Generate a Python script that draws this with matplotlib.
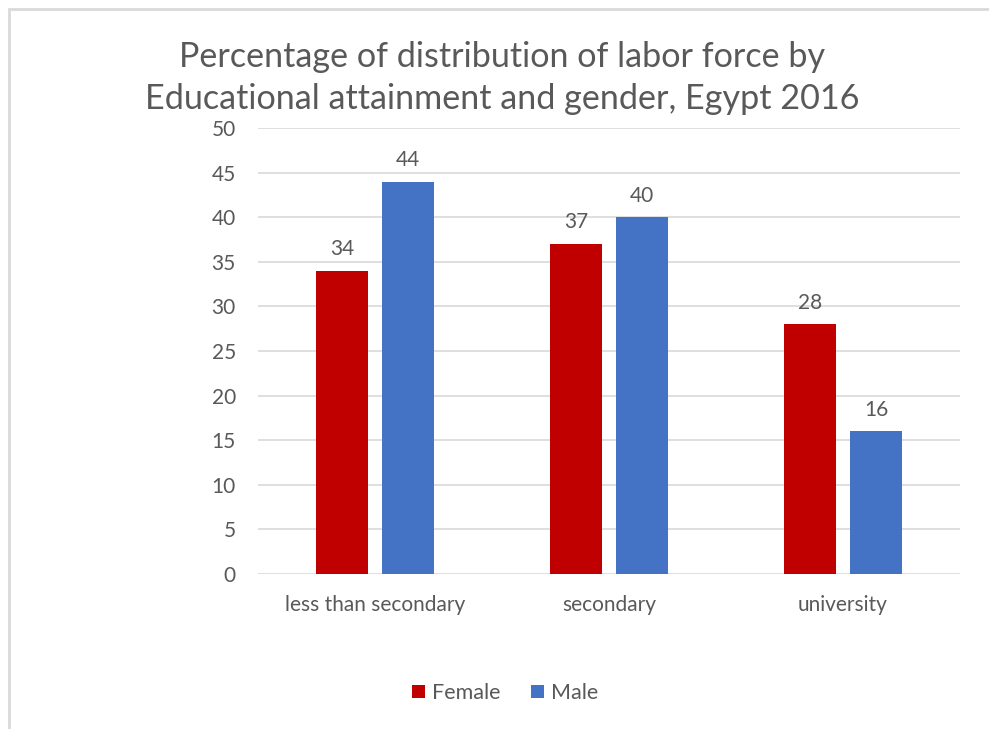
import matplotlib.pyplot as plt
import numpy as np
from matplotlib.patches import Rectangle

categories = ['less than secondary', 'secondary', 'university']
female = [34, 37, 28]
male = [44, 40, 16]

red = '#C00000'
blue = '#4472C4'
grey = '#595959'

plt.rcParams['font.family'] = ['Lato', 'DejaVu Sans']

fig = plt.figure(figsize=(9.89, 7.29), dpi=100)
# outer chart border (left and top visible)
fig.patches.append(Rectangle((8.5 / 989, -0.1), 1.2, 1.1 - 8.5 / 729, transform=fig.transFigure,
                             fill=False, edgecolor='#D9D9D9', linewidth=2))

ax = fig.add_axes([258 / 989, 1 - 574 / 729, (960 - 258) / 989, (574 - 128) / 729])

x = np.arange(len(categories))
w = 0.222
off = 0.141
b1 = ax.bar(x - off, female, w, color=red, label='Female', zorder=3)
b2 = ax.bar(x + off, male, w, color=blue, label='Male', zorder=3)

for bars in (b1, b2):
    for rect in bars:
        h = rect.get_height()
        ax.text(rect.get_x() + rect.get_width() / 2, h + 1.3, f'{h:g}',
                ha='center', va='bottom', fontsize=15, color=grey)

ax.set_xlim(-0.5, 2.5)
ax.set_ylim(0, 50)
ax.set_yticks(range(0, 51, 5))
ax.yaxis.grid(True, color='#D9D9D9', linewidth=1.2, zorder=0)
ax.set_xticks(x)
ax.set_xticklabels(categories)
ax.tick_params(axis='both', length=0, labelsize=15, labelcolor=grey)
ax.tick_params(axis='y', pad=16)
ax.tick_params(axis='x', pad=15)
for s in ax.spines.values():
    s.set_visible(False)

fig.text(0.508, 1 - 78 / 729, 'Percentage of distribution of labor force by\nEducational attainment and gender, Egypt 2016',
         ha='center', va='center', fontsize=24.6, color=grey, linespacing=1.4)

fig.legend(loc='center', bbox_to_anchor=(505 / 989, 1 - 693 / 729), ncol=2, frameon=False,
           fontsize=15.5, labelcolor=grey, handlelength=0.6, handleheight=0.6,
           handletextpad=0.35, columnspacing=1.4)

fig.savefig('out.png', dpi=100)
